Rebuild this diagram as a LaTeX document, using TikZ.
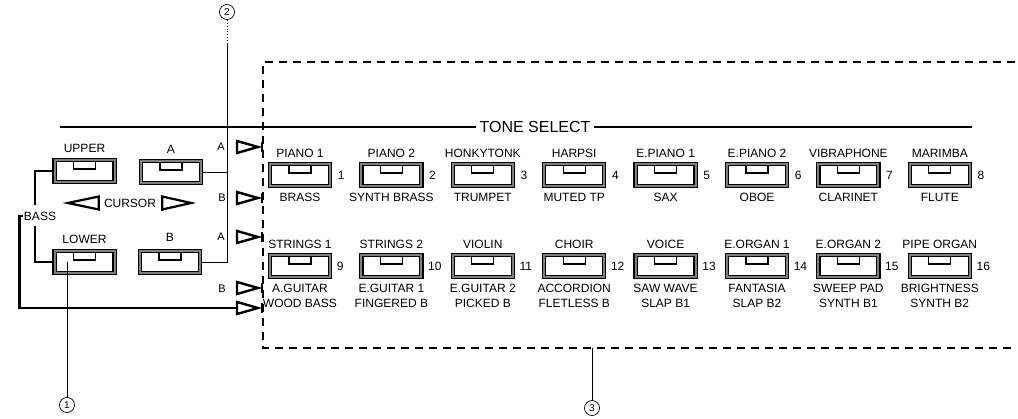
\documentclass[tikz,border=0pt]{standalone}
\usepackage{fontspec}
\setsansfont{Liberation Sans}
\usetikzlibrary{positioning}
\begin{document}
\begin{tikzpicture}[x=1pt, y=-1pt,
  font=\sffamily\fontsize{12}{14}\selectfont,
  pbtn/.style={draw, line width=1.2pt, double=black!50, double distance=2pt,
               minimum width=60pt, minimum height=22pt, inner sep=0pt,
               path picture={\draw[line width=1.3pt, fill=white]
                 ([xshift=-11pt,yshift=-1.5pt]path picture bounding box.north) rectangle
                 ([xshift=11pt,yshift=-9pt]path picture bounding box.north);}},
  lbl/.style={inner sep=0pt, text height=8.6pt, text depth=0pt},
  lbltwo/.style={inner sep=0pt, align=center, font=\sffamily\fontsize{12}{15}\selectfont},
  num/.style={inner sep=0pt, text height=8.6pt, text depth=0pt},
  sidelbl/.style={inner sep=0pt, font=\sffamily\fontsize{11}{12}\selectfont},
  heavy/.style={line width=2.6pt},
  fine/.style={line width=0.9pt},
  intri/.style={draw, line width=2.4pt, fill=white, line join=miter},
  curtri/.style={draw, line width=2.2pt, fill=white, line join=miter},
  circnum/.style={circle, draw, line width=0.7pt, inner sep=0pt, minimum size=15pt,
                  font=\sffamily\fontsize{10}{12}\selectfont},
  frame/.style={line width=1.2pt, dash pattern=on 8pt off 6pt}
]
  \fill[white] (0,0) rectangle (1018,419);
  \useasboundingbox (0,0) rectangle (1018,419);

  % dashed frame round the tone buttons
  \coordinate (boxbl) at (263,348);
  \draw[frame] (1015,62) -- (263,62) -- (boxbl) -- (1015,348);

  % tone select rule
  \node[inner sep=3pt, text height=11.5pt, text depth=0pt,
        font=\sffamily\fontsize{16}{18}\selectfont] (tonesel) at (535,127) {TONE SELECT};
  \coordinate (ruleL) at (60,127);
  \coordinate (ruleR) at (972,127);
  \draw[heavy] (ruleL) -- (tonesel.west);
  \draw[heavy] (tonesel.east) -- (ruleR);

  % upper / lower and A / B keys
  \node[pbtn] (upper) at (84.5,171) {};
  \node[pbtn] (selA) at (171,172) {};
  \node[pbtn] (lower) at (84.5,262) {};
  \node[pbtn] (selB) at (170,262) {};
  \node[lbl, above=7pt of upper] (upperlbl) {UPPER};
  \node[lbl, above=7pt of selA] (selAlbl) {A};
  \node[lbl, above=7pt of lower] (lowerlbl) {LOWER};
  \node[lbl, above=9pt of selB] (selBlbl) {B};

  % cursor
  \node[lbl] (cursor) at (130,203) {CURSOR};
  \draw[curtri] ([xshift=-5pt]cursor.west) -- ++(0,-6.5) -- ++(-31,6.5) -- ++(31,6.5) -- cycle;
  \draw[curtri] ([xshift=6pt]cursor.east) -- ++(0,-6.5) -- ++(29,6.5) -- ++(-29,6.5) -- cycle;

  % bass
  \node[lbl, inner ysep=6pt, inner xsep=1pt] (bass) at (40,216) {BASS};

  % inputs of the tone section
  \foreach \ty/\nm in {147/inA1, 198/inB1, 237/inA2, 288/inB2, 308/inBass}
    \coordinate (\nm) at (237,\ty);
  \node[sidelbl] (sideA1) at (221,147) {A};
  \node[sidelbl] (sideB1) at (222,198) {B};
  \node[sidelbl] (sideA2) at (221,237) {A};
  \node[sidelbl] (sideB2) at (222,289) {B};

  % callouts
  \node[circnum] (callout1) at (67,405) {1};
  \node[circnum] (callout2) at (227,12) {2};
  \node[circnum] (callout3) at (592,408) {3};

  % connections
  \draw[heavy] (upper.west) -| ([xshift=-5pt]bass.north);
  \draw[heavy] ([xshift=-5pt]bass.south) |- (lower.west);
  \draw[heavy] (bass.west) -- ++(-3,0) |- (inBass);
  \coordinate (jn2) at (227,44);
  \draw[fine] (selB.east) -| (jn2);
  \draw[fine] (selA.east) -- (selA.east -| jn2);
  \draw[fine, dotted] (jn2) -- (callout2);
  \draw[fine] (callout1 |- lower.center) -- (callout1);
  \draw[fine] (boxbl -| callout3) -- (callout3);

  \foreach \nm in {inA1, inB1, inA2, inB2, inBass}{
    \draw[intri] (\nm) -- ++(0,-6) -- ++(21,6) -- ++(-21,6) -- cycle;
    \draw[line width=1.2pt] ([xshift=25pt,yshift=5pt]\nm) -- ([xshift=25pt,yshift=-5pt]\nm);
  }

  % tone buttons, first row
  \foreach \up/\dn/\i in {PIANO 1/BRASS/1, PIANO 2/SYNTH BRASS/2, HONKYTONK/TRUMPET/3,
      HARPSI/MUTED TP/4, E.PIANO 1/SAX/5, E.PIANO 2/OBOE/6, VIBRAPHONE/CLARINET/7,
      MARIMBA/FLUTE/8}{
    \node[pbtn] (t\i) at ({300+91.4*(\i-1)},175) {};
    \node[lbl, above=6pt of t\i] (u\i) {\up};
    \node[lbl, below=6pt of t\i] (d\i) {\dn};
    \node[num, right=7pt of t\i] (k\i) {\i};
  }
  % tone buttons, second row
  \foreach \up/\dn/\i in {STRINGS 1/A.GUITAR\\WOOD BASS/9, STRINGS 2/E.GUITAR 1\\FINGERED B/10,
      VIOLIN/E.GUITAR 2\\PICKED B/11, CHOIR/ACCORDION\\FLETLESS B/12,
      VOICE/SAW WAVE\\SLAP B1/13, E.ORGAN 1/FANTASIA\\SLAP B2/14,
      E.ORGAN 2/SWEEP PAD\\SYNTH B1/15, PIPE ORGAN/BRIGHTNESS\\SYNTH B2/16}{
    \node[pbtn] (t\i) at ({300+91.4*(\i-9)},266) {};
    \node[lbl, above=6pt of t\i] (u\i) {\up};
    \node[lbltwo, below=6.5pt of t\i] (d\i) {\dn};
    \node[num, right=6pt of t\i] (k\i) {\i};
  }
\end{tikzpicture}
\end{document}
